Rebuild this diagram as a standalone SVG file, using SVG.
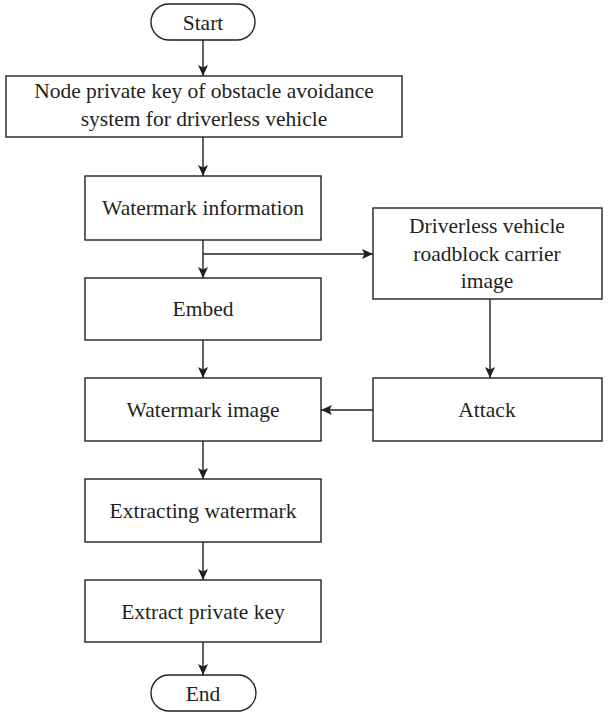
<svg xmlns="http://www.w3.org/2000/svg" width="608" height="716" viewBox="0 0 608 716">
<style>
.box{fill:#fff;stroke:#231f20;stroke-width:1.4}
.t{font-family:"Liberation Serif","Times New Roman",serif;font-size:21.5px;fill:#231f20;text-anchor:middle}
.c{fill:none;stroke:#231f20;stroke-width:1.4}
</style>
<defs>
<marker id="ah" markerUnits="userSpaceOnUse" markerWidth="12" markerHeight="10" refX="11" refY="5" orient="auto">
<path d="M0,0 L11,5 L0,10 L2.5,5 Z" fill="#231f20"/>
</marker>
</defs>
<rect width="608" height="716" fill="#fff"/>
<g id="connectors">
<line class="c" x1="203" y1="40" x2="203" y2="76" marker-end="url(#ah)"/>
<line class="c" x1="203" y1="137" x2="203" y2="176" marker-end="url(#ah)"/>
<line class="c" x1="203" y1="240" x2="203" y2="278" marker-end="url(#ah)"/>
<line class="c" x1="203" y1="254" x2="373" y2="254" marker-end="url(#ah)"/>
<line class="c" x1="203" y1="340" x2="203" y2="378" marker-end="url(#ah)"/>
<line class="c" x1="490" y1="299" x2="490" y2="378" marker-end="url(#ah)"/>
<line class="c" x1="373" y1="410" x2="321" y2="410" marker-end="url(#ah)"/>
<line class="c" x1="203" y1="441" x2="203" y2="479" marker-end="url(#ah)"/>
<line class="c" x1="203" y1="542" x2="203" y2="580" marker-end="url(#ah)"/>
<line class="c" x1="203" y1="642" x2="203" y2="675" marker-end="url(#ah)"/>
</g>
<g id="start"><rect class="box" x="151" y="4" width="104" height="36" rx="18"/><text class="t" x="203" y="30">Start</text></g>
<g id="privkey"><rect class="box" x="6" y="76" width="396" height="61"/><text class="t" x="204" y="98">Node private key of obstacle avoidance</text><text class="t" x="204" y="126">system for driverless vehicle</text></g>
<g id="wminfo"><rect class="box" x="85" y="176" width="236" height="64"/><text class="t" x="203" y="215">Watermark information</text></g>
<g id="carrier"><rect class="box" x="373" y="208" width="229" height="91"/><text class="t" x="487" y="233">Driverless vehicle</text><text class="t" x="487" y="261">roadblock carrier</text><text class="t" x="487" y="288">image</text></g>
<g id="embed"><rect class="box" x="85" y="278" width="236" height="62"/><text class="t" x="203" y="316">Embed</text></g>
<g id="wmimage"><rect class="box" x="85" y="378" width="236" height="63"/><text class="t" x="203" y="417">Watermark image</text></g>
<g id="attack"><rect class="box" x="373" y="378" width="229" height="63"/><text class="t" x="487" y="417">Attack</text></g>
<g id="extractwm"><rect class="box" x="85" y="479" width="236" height="63"/><text class="t" x="203" y="518">Extracting watermark</text></g>
<g id="extractpk"><rect class="box" x="85" y="580" width="236" height="62"/><text class="t" x="203" y="619">Extract private key</text></g>
<g id="end"><rect class="box" x="151" y="675" width="105" height="36" rx="18"/><text class="t" x="203" y="701">End</text></g>
</svg>
